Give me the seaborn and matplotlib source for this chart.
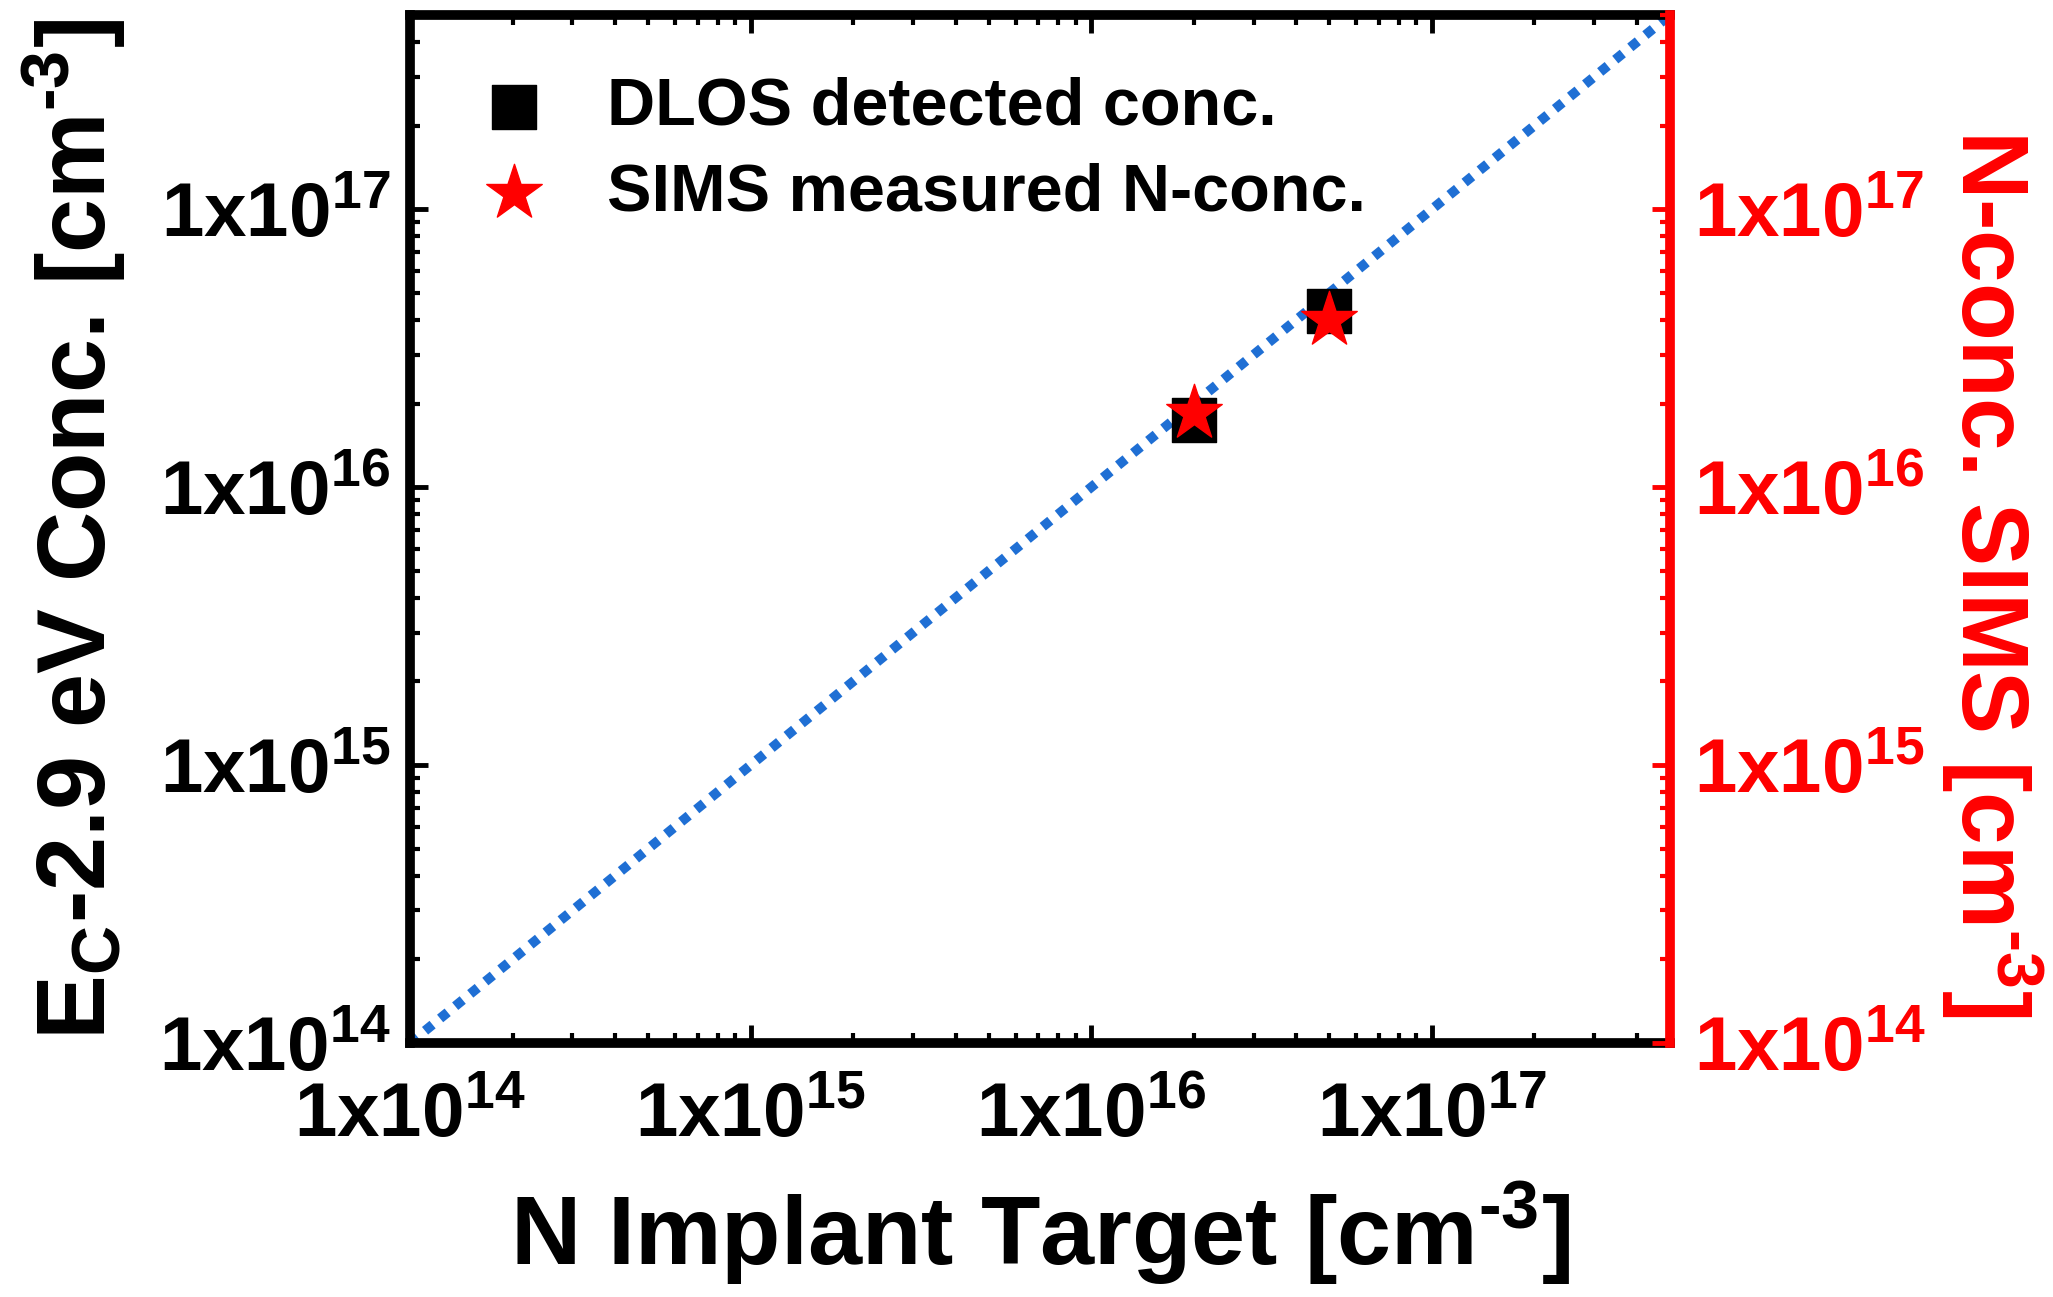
import numpy as np
import matplotlib
matplotlib.use("Agg")
import matplotlib.pyplot as plt
import seaborn as sns
from matplotlib.collections import PathCollection
from matplotlib.ticker import FixedLocator, FixedFormatter, LogLocator, NullFormatter

# Implant targets and measured concentrations [cm^-3]
implant_target = [2e16, 5e16]
dlos_conc = [1.75e16, 4.3e16]
sims_conc = [1.85e16, 4.0e16]

# 1:1 guide line
guide_x = [1e14, 5e17]
guide_y = [1e14, 5e17]

# Shared log axis range and decade labels
axis_range = (1e14, 5e17)
decades = [1e14, 1e15, 1e16, 1e17]
decade_labels = [r"1x10$^{14}$", r"1x10$^{15}$", r"1x10$^{16}$", r"1x10$^{17}$"]

HYPHEN = "\u2010"
unit = r"[cm$^{" + HYPHEN + r"3}$]"

BLUE = "#1f6fd4"
RED = "#ff0000"

sns.set_style("ticks")
plt.rcParams.update({
    "font.family": ["Liberation Sans", "DejaVu Sans"],
    "font.weight": "bold",
    "axes.labelweight": "bold",
    "text.color": "black",
    "axes.labelcolor": "black",
    "xtick.color": "black",
    "ytick.color": "black",
    "mathtext.fontset": "custom",
    "mathtext.rm": "Liberation Sans:bold",
    "mathtext.it": "Liberation Sans:bold",
    "mathtext.bf": "Liberation Sans:bold",
    "mathtext.sf": "Liberation Sans:bold",
    "mathtext.default": "rm",
})

fig = plt.figure(figsize=(20.53, 12.97), dpi=100)
ax = fig.add_axes([0.1997, 0.1958, 0.6137, 0.7926])
ax.set_xscale("log")
ax.set_yscale("log")

sns.lineplot(x=guide_x, y=guide_y, ax=ax, color=BLUE, linewidth=7,
             linestyle=(0, (1, 1)), zorder=1)
sns.scatterplot(x=implant_target, y=dlos_conc, ax=ax, marker="s", s=32 ** 2,
                color="black", edgecolor="black", linewidth=1, zorder=3,
                label="DLOS detected conc.")

ax2 = ax.twinx()
ax2.set_yscale("log")
sns.scatterplot(x=implant_target, y=sims_conc, ax=ax2, marker="*", s=42 ** 2,
                color=RED, edgecolor=RED, linewidth=1, zorder=3,
                label="SIMS measured N-conc.")

for a in (ax, ax2):
    a.set_xlim(axis_range)
    a.set_ylim(axis_range)
    lg = a.get_legend()
    if lg is not None:
        lg.remove()

for axis in (ax.xaxis, ax.yaxis, ax2.yaxis):
    axis.set_major_locator(FixedLocator(decades))
    axis.set_major_formatter(FixedFormatter(decade_labels))
    axis.set_minor_locator(LogLocator(base=10, subs=np.arange(2, 10)))
    axis.set_minor_formatter(NullFormatter())

ax.tick_params(axis="both", which="both", direction="in", top=True, right=False,
               colors="black")
ax.tick_params(axis="both", which="major", length=13, width=3.5, labelsize=55)
ax.tick_params(axis="both", which="minor", length=7, width=3)
ax.tick_params(axis="x", which="major", pad=28)
ax.tick_params(axis="y", which="major", pad=14)

ax2.tick_params(axis="y", which="both", direction="in", colors=RED)
ax2.tick_params(axis="y", which="major", length=13, width=3.5, labelsize=55, pad=17)
ax2.tick_params(axis="y", which="minor", length=7, width=3)

for side in ("left", "top", "bottom"):
    ax.spines[side].set_linewidth(7)
    ax.spines[side].set_color("black")
    ax2.spines[side].set_visible(False)
ax.spines["right"].set_visible(False)
ax2.spines["right"].set_linewidth(7)
ax2.spines["right"].set_color(RED)

ax.set_xlabel("N Implant Target " + unit, fontsize=70)
ax.xaxis.set_label_coords(0.5, -0.133)
ax.set_ylabel(r"E$_{C}$-2.9 eV Conc. " + unit, fontsize=70)
ax.yaxis.set_label_coords(-0.224, 0.5)
ax2.set_ylabel("N-conc. SIMS " + unit, fontsize=68, color=RED,
               rotation=270, va="bottom")
ax2.yaxis.set_label_coords(1.2135, 0.457)

handles = [c for c in ax.collections if isinstance(c, PathCollection)][:1] + \
          [c for c in ax2.collections if isinstance(c, PathCollection)][:1]
labels = [h.get_label() for h in handles]
ax2.legend(handles, labels, loc="upper left", bbox_to_anchor=(0.056, 0.94),
           frameon=False, fontsize=48, handlelength=1.0, handletextpad=0.9,
           labelspacing=0.35, borderaxespad=0, borderpad=0, scatterpoints=1)

fig.savefig("out.png", dpi=100)
